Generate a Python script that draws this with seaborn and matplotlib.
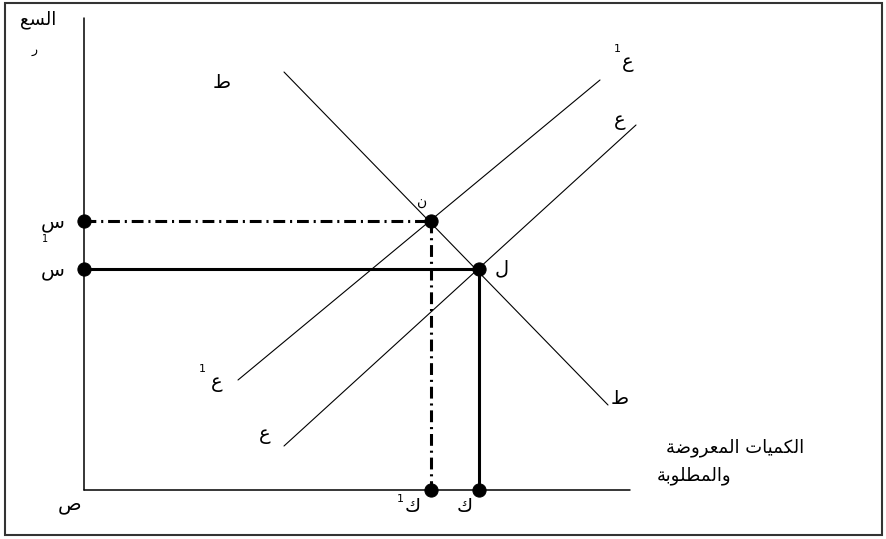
import numpy as np
import pandas as pd
import seaborn as sns
import matplotlib.pyplot as plt
from matplotlib.patches import Rectangle

# Curves (quantity, price) in chart units, origin at the axes corner
demand_q = [200, 524]
demand_p = [418, 85]
supply_q = [200, 552]
supply_p = [44, 365]
supply1_q = [154, 516]
supply1_p = [110, 410]

# Equilibria: old (ل) and new (ن)
q_old, p_old = 395, 221
q_new, p_new = 347, 269

y_axis_len = 472
x_axis_len = 546

# Arabic labels
y_label_top = "السع"
y_label_bottom = "ر"
x_label_1 = "الكميات المعروضة"
x_label_2 = "والمطلوبة"

# Minimal Arabic shaping (matplotlib has none): presentation forms
FORMS = {
    'ا': ('\uFE8D', '\uFE8E', None, None),
    'ب': ('\uFE8F', '\uFE90', '\uFE91', '\uFE92'),
    'ت': ('\uFE95', '\uFE96', '\uFE97', '\uFE98'),
    'ة': ('\uFE93', '\uFE94', None, None),
    'ر': ('\uFEAD', '\uFEAE', None, None),
    'س': ('\uFEB1', '\uFEB2', '\uFEB3', '\uFEB4'),
    'ض': ('\uFEBD', '\uFEBE', '\uFEBF', '\uFEC0'),
    'ط': ('\uFEC1', '\uFEC2', '\uFEC3', '\uFEC4'),
    'ع': ('\uFEC9', '\uFECA', '\uFECB', '\uFECC'),
    'ك': ('\uFED9', '\uFEDA', '\uFEDB', '\uFEDC'),
    'ل': ('\uFEDD', '\uFEDE', '\uFEDF', '\uFEE0'),
    'م': ('\uFEE1', '\uFEE2', '\uFEE3', '\uFEE4'),
    'و': ('\uFEED', '\uFEEE', None, None),
    'ي': ('\uFEF1', '\uFEF2', '\uFEF3', '\uFEF4'),
}


def joins_next(ch):
    return ch in FORMS and FORMS[ch][2] is not None


def shape(text):
    out = []
    for i, ch in enumerate(text):
        if ch not in FORMS:
            out.append(ch)
            continue
        prev = i > 0 and joins_next(text[i - 1])
        nxt = i < len(text) - 1 and text[i + 1] in FORMS and joins_next(ch)
        iso, fin, ini, med = FORMS[ch]
        if prev and nxt:
            out.append(med)
        elif prev:
            out.append(fin)
        elif nxt:
            out.append(ini)
        else:
            out.append(iso)
    return ''.join(out)[::-1]


sns.set_style("white")
plt.rcParams['font.family'] = ['DejaVu Sans']
plt.rcParams['lines.scale_dashes'] = False

fig = plt.figure(figsize=(8.86, 5.39), dpi=100)
ax = fig.add_axes([0, 0, 1, 1])
ax.set_xlim(-84, 802)
ax.set_ylim(-49, 490)
ax.axis('off')

# outer frame
ax.add_patch(Rectangle((-79, -45), 877, 532, fill=False, lw=1.5, ec='#333333'))

# axes
ax.plot([0, 0], [0, y_axis_len], color='black', lw=1.1)
ax.plot([0, x_axis_len], [0, 0], color='black', lw=1.1)

curves = pd.concat([
    pd.DataFrame({'q': demand_q, 'p': demand_p, 'curve': 'D'}),
    pd.DataFrame({'q': supply_q, 'p': supply_p, 'curve': 'S'}),
    pd.DataFrame({'q': supply1_q, 'p': supply1_p, 'curve': 'S1'}),
])
sns.lineplot(data=curves, x='q', y='p', units='curve', estimator=None,
             sort=False, color='black', lw=0.8, ax=ax)

dashdot = (0, (8.5, 3.5, 1.5, 3.5))
ax.plot([0, q_new], [p_new, p_new], color='black', lw=2.2, linestyle=dashdot)
ax.plot([q_new, q_new], [p_new, 0], color='black', lw=2.2, linestyle=dashdot)
ax.plot([0, q_old], [p_old, p_old], color='black', lw=2.2)
ax.plot([q_old, q_old], [p_old, 0], color='black', lw=2.2)

dots = pd.DataFrame({
    'q': [0, 0, q_new, q_old, q_new, q_old],
    'p': [p_new, p_old, p_new, p_old, 0, 0],
})
sns.scatterplot(data=dots, x='q', y='p', s=90, color='black',
                edgecolor='black', zorder=5, ax=ax)

fs = 14
def label(x, y, s, size=fs, ha='center'):
    ax.text(x, y, s, fontsize=size, ha=ha, va='center', color='black')

label(-46, 470, shape(y_label_top), size=13)
label(-49, 440, shape(y_label_bottom), size=9)
label(138, 408, shape('ط'))
label(536, 92, shape('ط'))
label(544, 428, shape('ع'))
label(533, 441, '1', size=8)
label(536, 370, shape('ع'))
label(133, 108, shape('ع'))
label(118, 121, '1', size=8)
label(181, 55, shape('ع'))
label(338, 288, shape('ن'), size=10)
label(418, 222, shape('ل'))
label(-31, 267, shape('س'))
label(-39, 251, '1', size=7)
label(-31, 220, shape('س'))
label(-14, -15, shape('ص'))
label(329, -16, shape('ك'))
label(316, -9, '1', size=8)
label(381, -16, shape('ك'))
label(651, 42, shape(x_label_1), size=13)
label(573, 14, shape(x_label_2), size=13, ha='left')

plt.savefig('out.png', dpi=100)
